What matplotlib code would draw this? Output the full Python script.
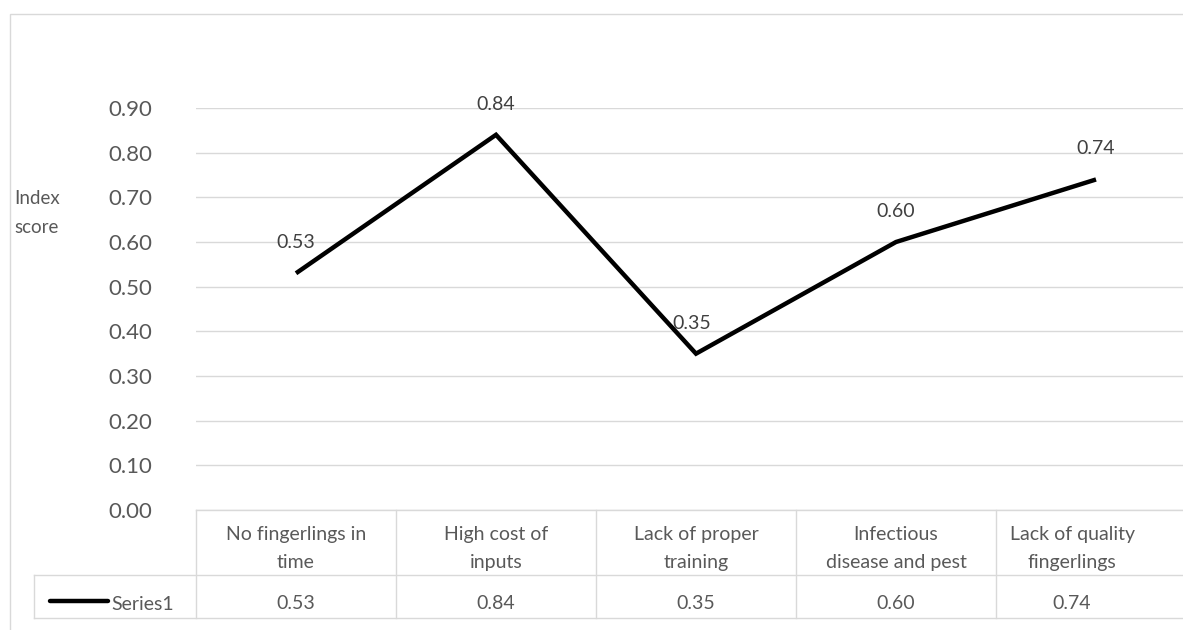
import matplotlib.pyplot as plt
import matplotlib.transforms as mtransforms
from matplotlib.patches import Rectangle
from matplotlib.lines import Line2D

# Constraint index scores
categories = [
    "No fingerlings in\ntime",
    "High cost of\ninputs",
    "Lack of proper\ntraining",
    "Infectious\ndisease and pest",
    "Lack of quality\nfingerlings",
]
scores = [0.53, 0.84, 0.35, 0.60, 0.74]
y_ticks = [0.0, 0.1, 0.2, 0.3, 0.4, 0.5, 0.6, 0.7, 0.8, 0.9]
series_name = "Series1"

plt.rcParams['font.family'] = ['Lato', 'DejaVu Sans']

W, H = 1183, 630
fig = plt.figure(figsize=(W / 100, H / 100), dpi=100)

# plot area in pixels: x 196..1196 (runs past the right edge), y 108..510
ax = fig.add_axes([196 / W, 1 - 510 / H, 1000 / W, 402 / H])
ax.set_xlim(-0.5, len(categories) - 0.5)
ax.set_ylim(0, 0.9)

grid_col = '#d9d9d9'
text_col = '#595959'

ax.set_yticks(y_ticks)
ax.set_yticklabels([f"{v:.2f}" for v in y_ticks], fontsize=16, color=text_col)
ax.tick_params(axis='y', length=0, pad=31.5)
ax.set_xticks([])
ax.grid(axis='y', color=grid_col, linewidth=1)
ax.set_axisbelow(True)
for s in ax.spines.values():
    s.set_visible(False)

x = list(range(len(categories)))
ax.plot(x, scores, color='black', linewidth=3.2, solid_joinstyle='miter',
        solid_capstyle='butt', clip_on=False)

for xi, v in zip(x, scores):
    dx = -3 if v == min(scores) else 0
    ax.annotate(f"{v:.2f}", (xi, v), xytext=(dx, 22), textcoords='offset points',
                ha='center', va='center', fontsize=14, color='#404040',
                annotation_clip=False)

fig.text(14 / W, 1 - 199 / H, "Index", fontsize=13.5, color=text_col, va='center')
fig.text(14 / W, 1 - 227 / H, "score", fontsize=13.5, color=text_col, va='center')

# data table under the plot: x in data units, y in figure fraction
trans = mtransforms.blended_transform_factory(ax.transData, fig.transFigure)
y_top = 1 - 510 / H
y_mid = 1 - 575 / H
y_bot = 1 - 618 / H
x_left = -0.5
x_right = len(categories) - 0.5
x_legend = (34 - 196) / 200 - 0.5
x_visible = (1148 - 196) / 200 - 0.5

def hline(x0, x1, y):
    fig.add_artist(Line2D([x0, x1], [y, y], color=grid_col, linewidth=1,
                          transform=trans))

def vline(xv, y0, y1):
    fig.add_artist(Line2D([xv, xv], [y0, y1], color=grid_col, linewidth=1,
                          transform=trans))

hline(x_left, x_right, y_top)
hline(x_legend, x_right, y_mid)
hline(x_legend, x_right, y_bot)
vline(x_legend, y_mid, y_bot)
for i in range(len(categories) + 1):
    vline(i - 0.5, y_bot, y_top)

for i, (cat, v) in enumerate(zip(categories, scores)):
    cx = i if i < len(categories) - 1 else (i - 0.5 + x_visible) / 2
    fig.text(cx, (y_top + y_mid) / 2 - 6 / H, cat, transform=trans,
             ha='center', va='center', fontsize=14, color=text_col,
             linespacing=1.85)
    fig.text(cx, (y_mid + y_bot) / 2 - 7 / H, f"{v:.2f}", transform=trans,
             ha='center', va='center', fontsize=14, color=text_col)

# legend key inside the series row
key_y = 1 - 601 / H
fig.add_artist(Line2D([50 / W, 108 / W], [key_y, key_y], color='black',
                      linewidth=3.2, solid_capstyle='round',
                      transform=fig.transFigure))
fig.text(111 / W, key_y - 3 / H, series_name, fontsize=14, color=text_col,
         va='center')

# chart frame
fig.add_artist(Rectangle((10 / W, -0.05), 1.2, 1 - 14 / H + 0.05,
                         fill=False, edgecolor=grid_col, linewidth=1,
                         transform=fig.transFigure))

fig.savefig("out.png", dpi=100, facecolor='white')
